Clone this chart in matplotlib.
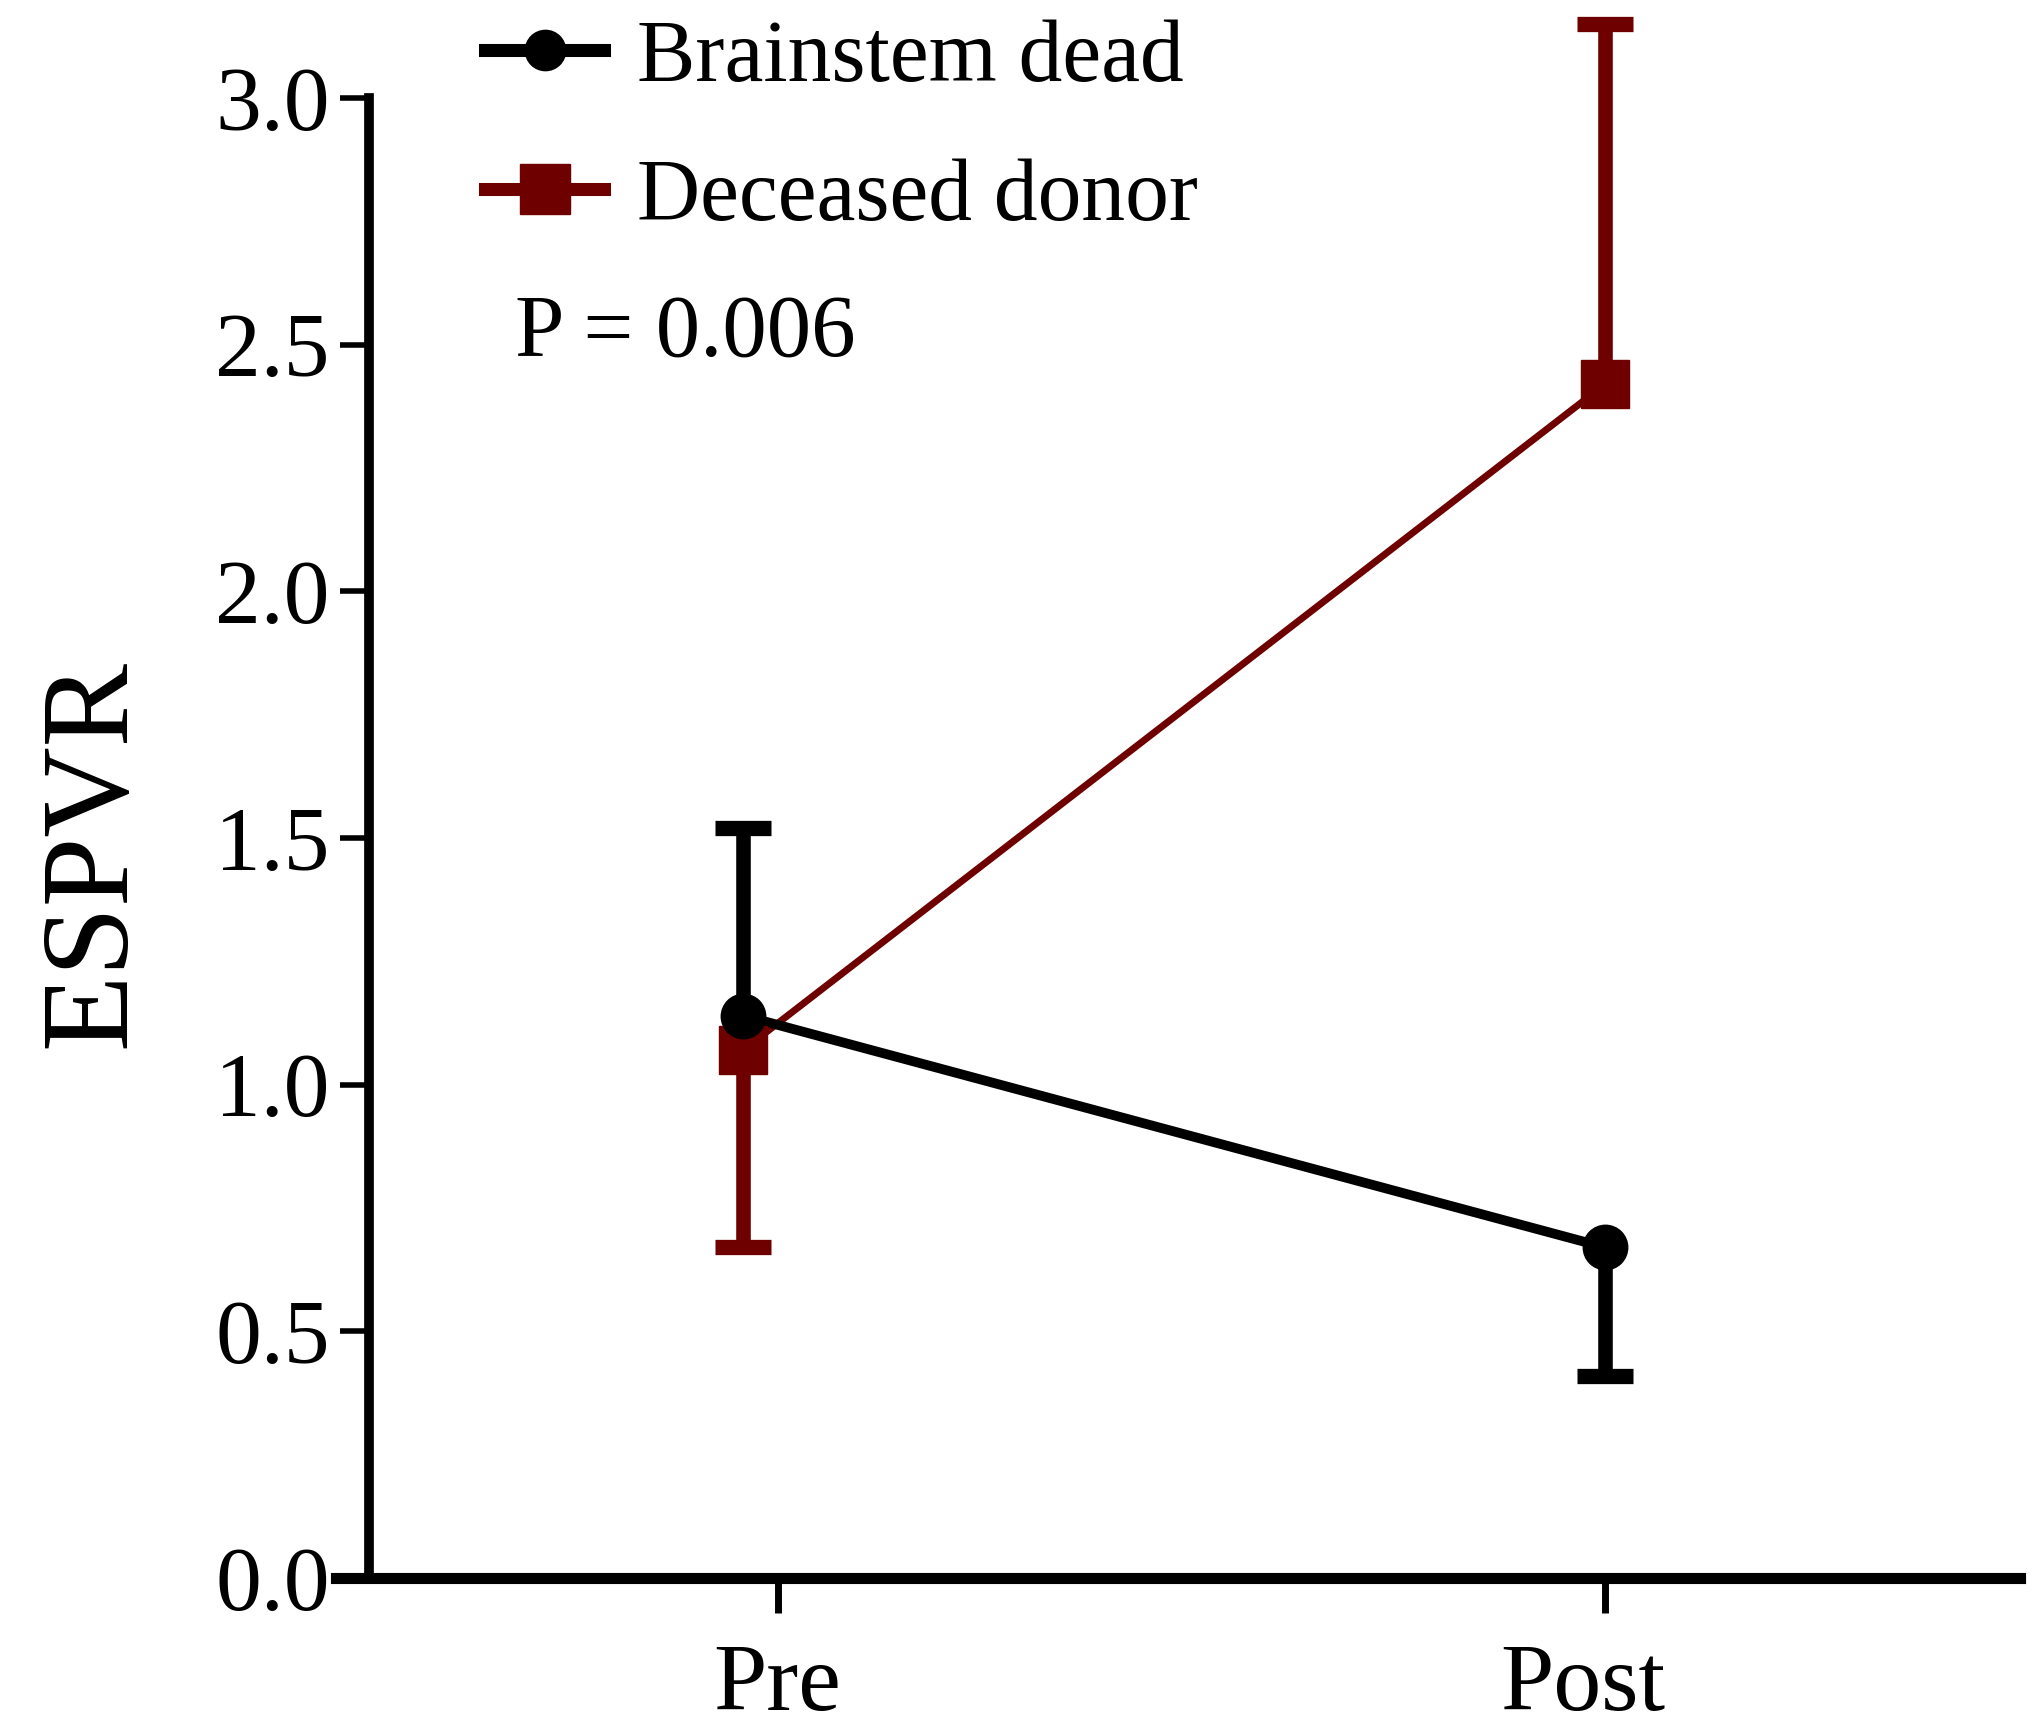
import numpy as np
import matplotlib
matplotlib.use("Agg")
import matplotlib.pyplot as plt
from matplotlib.lines import Line2D
from matplotlib.transforms import ScaledTranslation

# ---- data -------------------------------------------------------------
categories = ["Pre", "Post"]
group_names = ["Brainstem dead", "Deceased donor"]

brainstem_mean = [1.14, 0.67]
brainstem_err_low = [0.0, 0.26]
brainstem_err_high = [0.38, 0.0]

donor_mean = [1.07, 2.42]
donor_err_low = [0.40, 0.0]
donor_err_high = [0.0, 0.73]

y_ticks = [0.0, 0.5, 1.0, 1.5, 2.0, 2.5, 3.0]
y_tick_labels = ["0.0", "0.5", "1.0", "1.5", "2.0", "2.5", "3.0"]
y_label = "ESPVR"
p_value_text = "P = 0.006"

# ---- style ------------------------------------------------------------
BLACK = "#000000"
RED = "#6e0000"
plt.rcParams["font.family"] = ["Liberation Serif", "DejaVu Serif"]

fig = plt.figure(figsize=(20.43, 17.34), dpi=100)
fig.patch.set_facecolor("white")
ax = fig.add_axes([0.1645, 0.0900, 0.8242, 0.9047])

x = np.arange(len(categories), dtype=float)


def draw_group(mean, low, high, color, marker, ms, lw, z):
    mean = np.asarray(mean)
    low = np.asarray(low)
    high = np.asarray(high)
    # one-sided error stems
    ax.errorbar(x, mean, yerr=[low, high], fmt="none", ecolor=color,
                elinewidth=10.5, capsize=0, zorder=z)
    # caps only on the side that carries an error
    up = high > 0
    dn = low > 0
    ax.plot(x[up], (mean + high)[up], linestyle="none", marker="_",
            ms=41, mew=11, color=color, zorder=z)
    ax.plot(x[dn], (mean - low)[dn], linestyle="none", marker="_",
            ms=41, mew=11, color=color, zorder=z)
    ax.plot(x, mean, color=color, lw=lw, zorder=z + 1,
            solid_capstyle="butt")
    ax.plot(x, mean, linestyle="none", marker=marker, ms=ms, color=color,
            mec=color, zorder=z + 3)


draw_group(donor_mean, donor_err_low, donor_err_high, RED, "s", 34, 5.0, 2)
draw_group(brainstem_mean, brainstem_err_low, brainstem_err_high, BLACK,
           "o", 32, 7.0, 3)

# ---- axes -------------------------------------------------------------
ax.set_xlim(-0.472, 1.481)
ax.set_ylim(0, 3.18)
ax.set_facecolor("white")

for side in ("top", "right"):
    ax.spines[side].set_visible(False)
ax.spines["left"].set_position(("data", -0.434))
ax.spines["left"].set_bounds(0, 3.0)
ax.spines["left"].set_linewidth(7)
ax.spines["bottom"].set_linewidth(8)
ax.spines["left"].set_capstyle("projecting")

ax.set_yticks(y_ticks, labels=y_tick_labels)
ax.set_xticks(x + np.array([0.04, 0.0]), labels=categories)
ax.tick_params(axis="y", direction="out", length=21, width=4, pad=7,
               labelsize=66, color=BLACK)
ax.tick_params(axis="x", direction="out", length=25, width=5, pad=22,
               labelsize=69, color=BLACK)

# the "Post" label sits a little left of its tick
post_label = ax.get_xticklabels()[1]
post_label.set_transform(post_label.get_transform()
                         + ScaledTranslation(-0.22, 0, fig.dpi_scale_trans))

fig.text(94 / 2043, 1 - 853 / 1734, y_label, rotation=90, ha="center",
         va="center", fontsize=90)

# ---- legend & annotation ---------------------------------------------
handles = [
    Line2D([], [], color=BLACK, lw=9.4, marker="o", ms=29),
    Line2D([], [], color=RED, lw=9.4, marker="s", ms=36),
]
leg = fig.legend(handles, group_names, loc="upper left",
                 bbox_to_anchor=(485 / 2043, 0.989), frameon=False,
                 fontsize=63, handlelength=1.36, handletextpad=0.38,
                 labelspacing=0.66, borderpad=0, borderaxespad=0)

fig.text(515 / 2043, 1 - 356 / 1734, p_value_text, ha="left",
         va="baseline", fontsize=64)

fig.savefig("out.png", dpi=100, facecolor="white")
